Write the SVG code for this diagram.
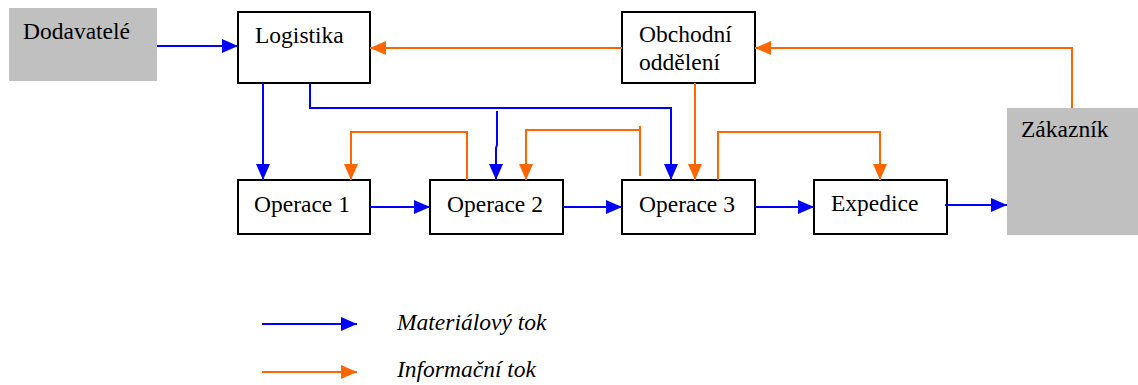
<svg xmlns="http://www.w3.org/2000/svg" width="1138" height="385" viewBox="0 0 1138 385">
  <style>
    text { font-family: "Liberation Serif", "Times New Roman", serif; font-size: 23.5px; fill: #000; }
    .legend { font-style: italic; }
    .box { fill: #fff; stroke: #000; stroke-width: 2; }
    .ext { fill: #c0c0c0; stroke: none; }
    .mat { fill: none; stroke: #0000ff; stroke-width: 2; marker-end: url(#arrMat); }
    .inf { fill: none; stroke: #ff6600; stroke-width: 2; marker-end: url(#arrInf); }
    .infPlain { fill: none; stroke: #ff6600; stroke-width: 2; }
  </style>
  <defs>
    <marker id="arrMat" markerUnits="userSpaceOnUse" markerWidth="16" markerHeight="14" refX="16" refY="7" orient="auto">
      <path d="M0,0 L16,7 L0,14 Z" fill="#0000ff"/>
    </marker>
    <marker id="arrInf" markerUnits="userSpaceOnUse" markerWidth="16" markerHeight="14" refX="16" refY="7" orient="auto">
      <path d="M0,0 L16,7 L0,14 Z" fill="#ff6600"/>
    </marker>
  </defs>

  <rect width="1138" height="385" fill="#fff"/>

  <g id="dodavatele">
    <rect class="ext" x="9" y="8" width="148" height="73"/>
    <text x="23" y="39">Dodavatelé</text>
  </g>
  <g id="logistika">
    <rect class="box" x="238" y="12" width="132" height="71"/>
    <text x="255" y="43">Logistika</text>
  </g>
  <g id="obchodni-oddeleni">
    <rect class="box" x="622" y="12" width="133" height="71"/>
    <text x="639" y="42">Obchodní</text>
    <text x="639" y="70">oddělení</text>
  </g>
  <g id="zakaznik">
    <rect class="ext" x="1007" y="108" width="131" height="127"/>
    <text x="1021" y="137">Zákazník</text>
  </g>
  <g id="operace1">
    <rect class="box" x="238" y="180" width="132" height="54"/>
    <text x="254" y="212">Operace 1</text>
  </g>
  <g id="operace2">
    <rect class="box" x="430" y="180" width="133" height="54"/>
    <text x="447" y="212">Operace 2</text>
  </g>
  <g id="operace3">
    <rect class="box" x="622" y="180" width="133" height="54"/>
    <text x="639" y="212">Operace 3</text>
  </g>
  <g id="expedice">
    <rect class="box" x="814" y="180" width="133" height="54"/>
    <text x="831" y="211">Expedice</text>
  </g>

  <g id="connectors">
    <!-- material flow -->
    <path class="mat" d="M157,46 H238"/>
    <path class="mat" d="M263,83 V180"/>
    <path class="mat" d="M310,83 V108 H671 V180"/>
    <path class="mat" d="M497,111 V145 L496,148 V180"/>
    <path class="mat" d="M370,207 H430"/>
    <path class="mat" d="M563,207 H622"/>
    <path class="mat" d="M755,207 H814"/>
    <path class="mat" d="M945,205 H1007"/>
    <!-- information flow -->
    <path class="inf" d="M622,48 H370"/>
    <path class="inf" d="M1072,108 V48 H755"/>
    <path class="inf" d="M695,83 V180"/>
    <path class="inf" d="M467,180 V132 H351 V180"/>
    <path class="inf" d="M640,176 V130 H526 V180"/>
    <path class="infPlain" d="M640,126 V134"/>
    <path class="inf" d="M718,180 V132 H880 V180"/>
  </g>

  <g id="legend">
    <path class="mat" d="M262,324 H357"/>
    <text class="legend" x="397" y="330">Materiálový tok</text>
    <path class="inf" d="M262,372 H357"/>
    <text class="legend" x="397" y="377">Informační tok</text>
  </g>
</svg>
